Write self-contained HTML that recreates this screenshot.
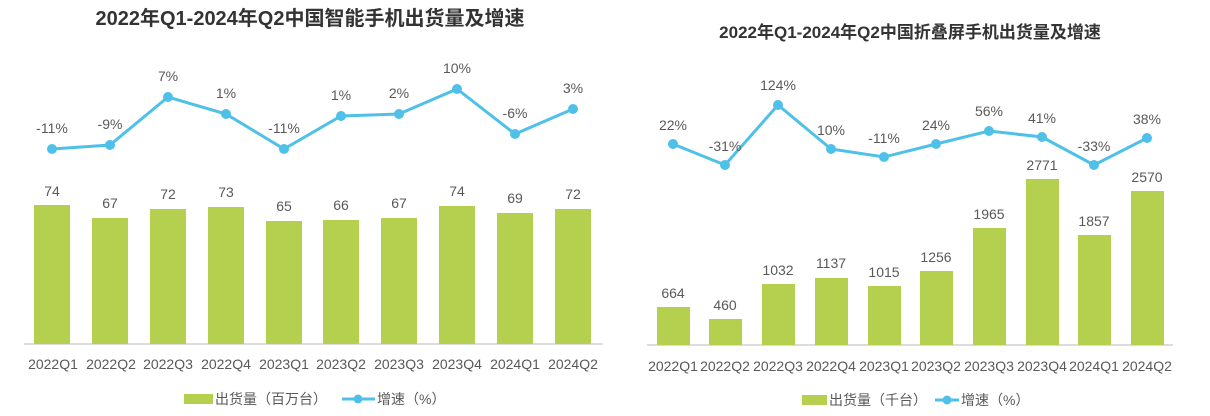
<!DOCTYPE html>
<html><head><meta charset="utf-8"><style>
html,body{margin:0;padding:0;background:#fff;}
svg{display:block;}
text{font-family:"Liberation Sans","Noto Sans CJK SC",sans-serif;fill:#595959;}
.t{font-weight:bold;fill:#333;}
</style></head><body>
<svg width="1210" height="416" viewBox="0 0 1210 416" xmlns="http://www.w3.org/2000/svg">
<rect width="1210" height="416" fill="#fff"/>
<!-- LEFT -->
<text class="t" x="310" y="25" font-size="20" text-anchor="middle">2022年Q1-2024年Q2中国智能手机出货量及增速</text>
<line x1="24" y1="344" x2="603" y2="344" stroke="#d0d0d0" stroke-width="1.5"/>
<g fill="#b5cf4f">
<rect x="34" y="205" width="36" height="139"/>
<rect x="92" y="218" width="36" height="126"/>
<rect x="150" y="209" width="36" height="135"/>
<rect x="208" y="207" width="36" height="137"/>
<rect x="266" y="221" width="36" height="123"/>
<rect x="323" y="220" width="36" height="124"/>
<rect x="381" y="218" width="36" height="126"/>
<rect x="439" y="206" width="36" height="138"/>
<rect x="497" y="213" width="36" height="131"/>
<rect x="555" y="209" width="36" height="135"/>
</g>
<g font-size="14" text-anchor="middle">
<text x="52" y="196">74</text><text x="110" y="208">67</text><text x="168" y="199">72</text><text x="226" y="197">73</text><text x="284" y="211">65</text><text x="341" y="210">66</text><text x="399" y="208">67</text><text x="457" y="196">74</text><text x="515" y="203">69</text><text x="573" y="199">72</text>
</g>
<polyline fill="none" stroke="#4fc0e8" stroke-width="3" points="52,149 110,145 168,97 226,114 284,149 341,116 399,114 457,89 515,134 573,109"/>
<g fill="#4fc0e8">
<circle cx="52" cy="149" r="5"/><circle cx="110" cy="145" r="5"/><circle cx="168" cy="97" r="5"/><circle cx="226" cy="114" r="5"/><circle cx="284" cy="149" r="5"/><circle cx="341" cy="116" r="5"/><circle cx="399" cy="114" r="5"/><circle cx="457" cy="89" r="5"/><circle cx="515" cy="134" r="5"/><circle cx="573" cy="109" r="5"/>
</g>
<g font-size="14" text-anchor="middle">
<text x="52" y="133">-11%</text><text x="110" y="129">-9%</text><text x="168" y="81">7%</text><text x="226" y="98">1%</text><text x="284" y="133">-11%</text><text x="341" y="100">1%</text><text x="399" y="98">2%</text><text x="457" y="73">10%</text><text x="515" y="118">-6%</text><text x="573" y="93">3%</text>
</g>
<g font-size="14" text-anchor="middle">
<text x="53" y="369">2022Q1</text><text x="111" y="369">2022Q2</text><text x="168" y="369">2022Q3</text><text x="226" y="369">2022Q4</text><text x="284" y="369">2023Q1</text><text x="341" y="369">2023Q2</text><text x="399" y="369">2023Q3</text><text x="457" y="369">2023Q4</text><text x="515" y="369">2024Q1</text><text x="573" y="369">2024Q2</text>
</g>
<rect x="184" y="394" width="29" height="10" fill="#b5cf4f"/>
<text x="215" y="404" font-size="14">出货量（百万台）</text>
<line x1="342" y1="399" x2="375" y2="399" stroke="#4fc0e8" stroke-width="3"/>
<circle cx="358" cy="399" r="4.5" fill="#4fc0e8"/>
<text x="377" y="404" font-size="14">增速（%）</text>

<!-- RIGHT -->
<text class="t" x="910" y="38" font-size="17" text-anchor="middle">2022年Q1-2024年Q2中国折叠屏手机出货量及增速</text>
<line x1="647" y1="345" x2="1173" y2="345" stroke="#d0d0d0" stroke-width="1.5"/>
<g fill="#b5cf4f">
<rect x="657" y="307" width="33" height="38"/>
<rect x="709" y="319" width="33" height="26"/>
<rect x="762" y="284" width="33" height="61"/>
<rect x="815" y="278" width="33" height="67"/>
<rect x="868" y="286" width="33" height="59"/>
<rect x="920" y="271" width="33" height="74"/>
<rect x="973" y="228" width="33" height="117"/>
<rect x="1026" y="179" width="33" height="166"/>
<rect x="1078" y="235" width="33" height="110"/>
<rect x="1131" y="191" width="33" height="154"/>
</g>
<g font-size="14" text-anchor="middle">
<text x="673" y="298">664</text><text x="725" y="310">460</text><text x="778" y="275">1032</text><text x="831" y="268">1137</text><text x="884" y="277">1015</text><text x="936" y="262">1256</text><text x="989" y="219">1965</text><text x="1042" y="170">2771</text><text x="1094" y="226">1857</text><text x="1147" y="182">2570</text>
</g>
<polyline fill="none" stroke="#4fc0e8" stroke-width="3" points="673,144 725,165 778,105 831,149 884,157 936,144 989,131 1042,137 1094,165 1147,138"/>
<g fill="#4fc0e8">
<circle cx="673" cy="144" r="5"/><circle cx="725" cy="165" r="5"/><circle cx="778" cy="105" r="5"/><circle cx="831" cy="149" r="5"/><circle cx="884" cy="157" r="5"/><circle cx="936" cy="144" r="5"/><circle cx="989" cy="131" r="5"/><circle cx="1042" cy="137" r="5"/><circle cx="1094" cy="165" r="5"/><circle cx="1147" cy="138" r="5"/>
</g>
<g font-size="14" text-anchor="middle">
<text x="673" y="130">22%</text><text x="725" y="151">-31%</text><text x="778" y="90">124%</text><text x="831" y="135">10%</text><text x="884" y="143">-11%</text><text x="936" y="130">24%</text><text x="989" y="116">56%</text><text x="1042" y="123">41%</text><text x="1094" y="151">-33%</text><text x="1147" y="124">38%</text>
</g>
<g font-size="14" text-anchor="middle">
<text x="673" y="371">2022Q1</text><text x="725" y="371">2022Q2</text><text x="778" y="371">2022Q3</text><text x="831" y="371">2022Q4</text><text x="884" y="371">2023Q1</text><text x="936" y="371">2023Q2</text><text x="989" y="371">2023Q3</text><text x="1042" y="371">2023Q4</text><text x="1094" y="371">2024Q1</text><text x="1147" y="371">2024Q2</text>
</g>
<rect x="802" y="395" width="25" height="10" fill="#b5cf4f"/>
<text x="829" y="405" font-size="14">出货量（千台）</text>
<line x1="935" y1="400" x2="959" y2="400" stroke="#4fc0e8" stroke-width="3"/>
<circle cx="947" cy="400" r="4.5" fill="#4fc0e8"/>
<text x="961" y="405" font-size="14">增速（%）</text>
</svg>
</body></html>
